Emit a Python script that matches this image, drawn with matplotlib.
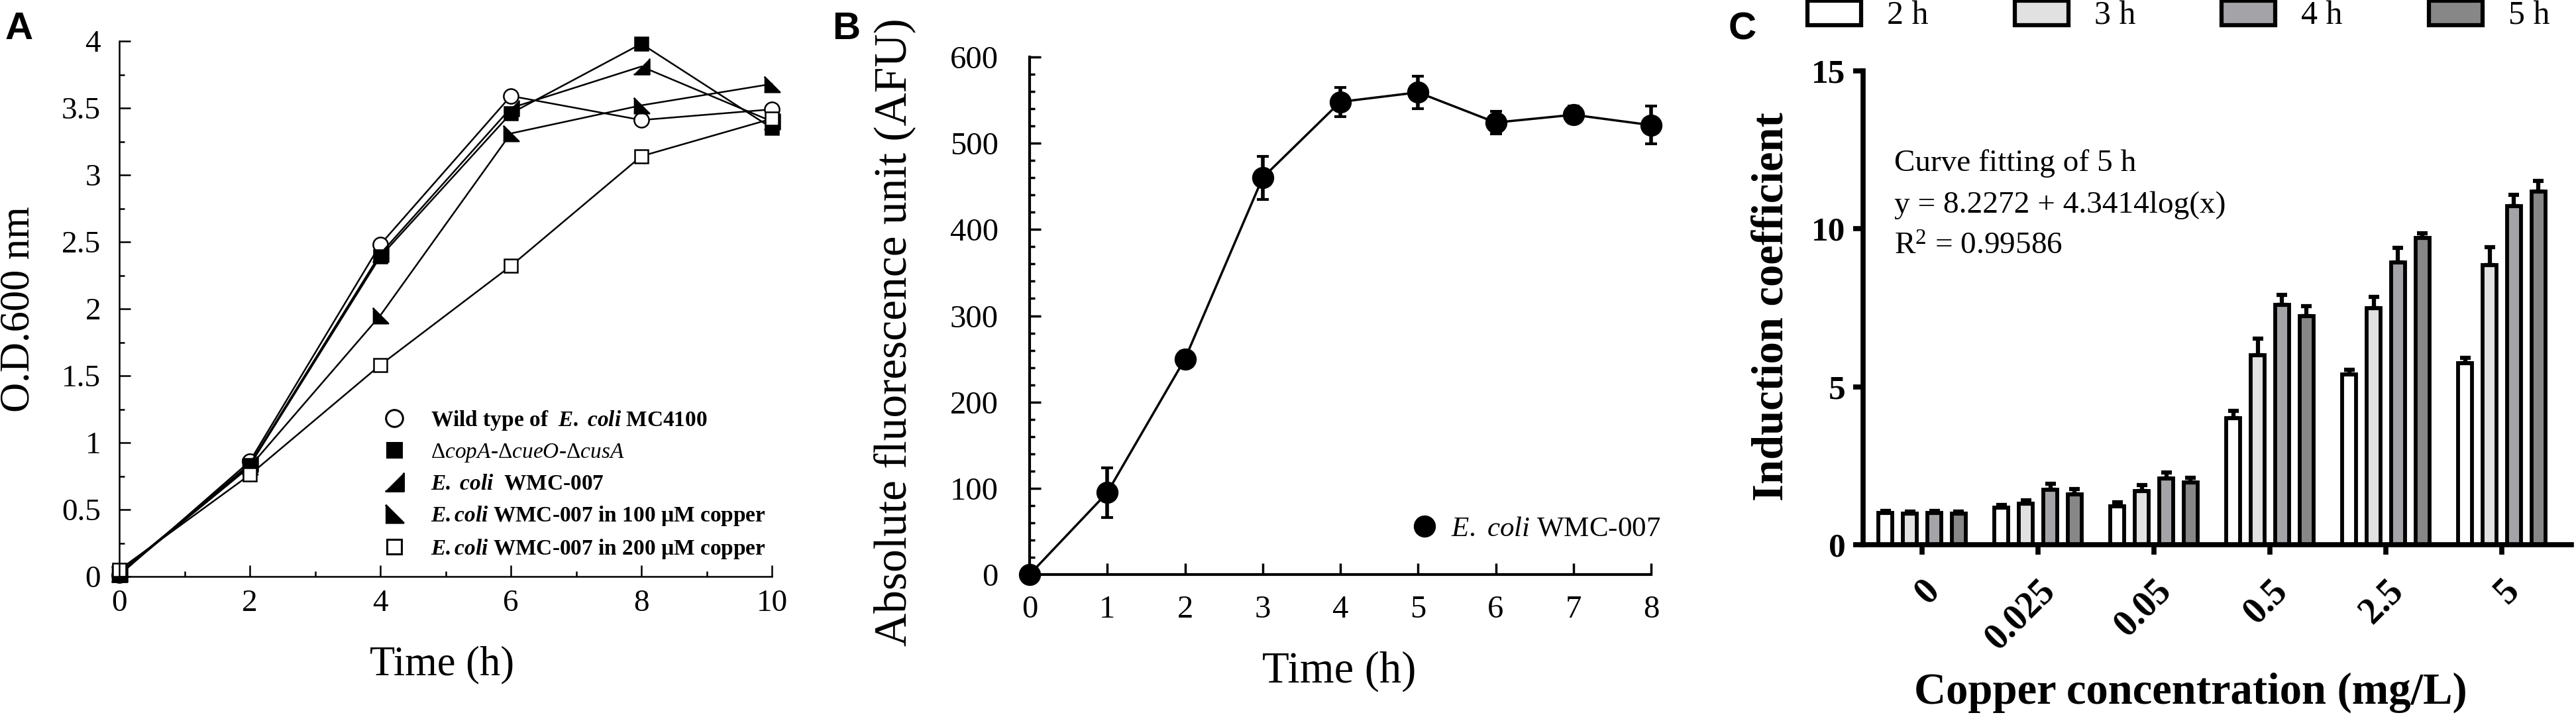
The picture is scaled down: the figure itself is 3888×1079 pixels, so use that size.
import numpy as np
import matplotlib
matplotlib.use("Agg")
from matplotlib import pyplot as plt
from matplotlib.patches import Patch
from matplotlib.lines import Line2D
from matplotlib.ticker import MultipleLocator, StrMethodFormatter

plt.rcParams['font.family'] = ['Liberation Serif', 'DejaVu Serif']
plt.rcParams['mathtext.fontset'] = 'custom'
plt.rcParams['mathtext.rm'] = 'Liberation Serif'
plt.rcParams['mathtext.it'] = 'Liberation Serif:italic'
plt.rcParams['mathtext.bf'] = 'Liberation Serif:bold'
if 'mathtext.bfit' in plt.rcParams:
    plt.rcParams['mathtext.bfit'] = 'Liberation Serif:italic:bold'

# ---- panel A: growth curves
time_a = [0, 2, 4, 6, 8, 10]
od_wild = [0.01, 0.86, 2.48, 3.59, 3.41, 3.49]
od_ko = [0.03, 0.83, 2.39, 3.46, 3.98, 3.35]
od_wmc = [0.02, 0.84, 2.41, 3.50, 3.81, 3.40]
od_cu100 = [0.02, 0.82, 1.95, 3.31, 3.52, 3.68]
od_cu200 = [0.05, 0.76, 1.58, 2.32, 3.14, 3.42]
labels_a = [r'Wild type of  $\mathbfit{E.\ coli}$ MC4100',
            r'$\Delta\mathit{copA}$-$\Delta\mathit{cueO}$-$\Delta\mathit{cusA}$',
            r'$\mathbfit{E.\ coli}$  WMC-007',
            r'$\mathbfit{E.coli}$ WMC-007 in 100 µM copper',
            r'$\mathbfit{E.coli}$ WMC-007 in 200 µM copper']

# ---- panel B: fluorescence
time_b = [0, 1, 2, 3, 4, 5, 6, 7, 8]
afu = [0, 95, 250, 460, 548, 559, 524, 533, 521]
afu_err = [0, 29, 9, 25, 17, 19, 13, 10, 22]
label_b = r'$\mathit{E.\ coli}$ WMC-007'

# ---- panel C: induction coefficient
conc_labels = ['0', '0.025', '0.05', '0.5', '2.5', '5']
hours = ['2 h', '3 h', '4 h', '5 h']
ic_2h = [1.00, 1.18, 1.22, 4.01, 5.39, 5.75]
ic_3h = [0.99, 1.30, 1.70, 6.00, 7.49, 8.86]
ic_4h = [1.00, 1.74, 2.10, 7.59, 8.94, 10.72]
ic_5h = [0.99, 1.60, 1.97, 7.24, 9.71, 11.18]
err_2h = [0.06, 0.07, 0.12, 0.22, 0.15, 0.16]
err_3h = [0.05, 0.10, 0.18, 0.52, 0.36, 0.55]
err_4h = [0.06, 0.20, 0.18, 0.32, 0.45, 0.35]
err_5h = [0.05, 0.16, 0.15, 0.32, 0.15, 0.33]
fit_text = ['Curve fitting of 5 h', 'y = 8.2272 + 4.3414log(x)', r'R$^2$ = 0.99586']

W, H = 3888, 1079
fig = plt.figure(figsize=(W / 100, H / 100), dpi=100)


def box(l, r, t, b):
    return [l / W, 1 - b / H, (r - l) / W, (b - t) / H]


def clean(ax, lw):
    for s in ['top', 'right']:
        ax.spines[s].set_visible(False)
    for s in ['left', 'bottom']:
        ax.spines[s].set_linewidth(lw)


# ================= A
ax = fig.add_axes(box(180, 1165, 62, 870))
clean(ax, 1.8)
tri_wmc = [(-1, -1), (1, -1), (1, 1)]
tri_cu = [(-1, -1), (1, -1), (-1, 1)]
series_a = [(od_wild, 'o', 'white', 16),
            (od_ko, 's', 'black', 14),
            (od_wmc, tri_wmc, 'black', 17),
            (od_cu100, tri_cu, 'black', 17),
            (od_cu200, 's', 'white', 14)]
proxies = []
for (vals, mk, fc, ms), lab in zip(series_a, labels_a):
    ax.plot(time_a, vals, color='black', lw=1.8, marker=mk, mfc=fc, mec='black',
            mew=1.8, ms=ms, clip_on=False)
    proxies.append(Line2D([], [], ls='none', marker=mk, mfc=fc, mec='black',
                          mew=2.2, ms=ms * 1.15))
ax.set_xlim(0, 10)
ax.set_ylim(0, 4)
ax.xaxis.set_major_locator(MultipleLocator(2))
ax.xaxis.set_minor_locator(MultipleLocator(1))
ax.yaxis.set_major_locator(MultipleLocator(0.5))
ax.yaxis.set_minor_locator(MultipleLocator(0.25))
ax.yaxis.set_major_formatter(StrMethodFormatter('{x:g}'))
ax.tick_params(which='both', direction='in', width=1.8, labelsize=34)
ax.tick_params(which='major', length=12)
ax.tick_params(which='minor', length=6)
ax.tick_params(axis='y', pad=20)
ax.tick_params(axis='x', pad=14)
ax.set_ylabel('O.D.600 nm', fontsize=45)
ax.set_xlabel('Time (h)', fontsize=45)
ax.yaxis.label.set(ha='center', va='center', rotation_mode='default')
ax.xaxis.label.set(ha='center', va='center')
ax.yaxis.set_label_coords(-0.1533, 0.499)
ax.xaxis.set_label_coords(0.494, -0.1646)
ax.legend(proxies, labels_a, loc='upper left', bbox_to_anchor=(562 / W, 1 - 600 / H),
          bbox_transform=fig.transFigure, frameon=False, borderpad=0,
          handlelength=1.0, handletextpad=1.15, labelspacing=0.45,
          prop={'size': 24, 'weight': 'bold'})

# ================= B
ax = fig.add_axes(box(1554, 2492, 86, 867))
clean(ax, 3)
ax.errorbar(time_b, afu, yerr=afu_err, fmt='-o', color='black', lw=2.5, ms=23,
            elinewidth=4, capsize=6.5, capthick=3, clip_on=False)
ax.set_xlim(0, 8)
ax.set_ylim(0, 600)
ax.xaxis.set_major_locator(MultipleLocator(1))
ax.yaxis.set_major_locator(MultipleLocator(100))
ax.yaxis.set_minor_locator(MultipleLocator(20))
ax.tick_params(which='both', direction='in', width=2.5, labelsize=35)
ax.tick_params(which='major', length=12)
ax.tick_params(which='minor', length=6)
ax.tick_params(axis='y', pad=34)
ax.tick_params(axis='x', pad=22)
ax.set_ylabel('Absolute fluorescence unit (AFU)', fontsize=50)
ax.set_xlabel('Time (h)', fontsize=48)
ax.yaxis.label.set(ha='center', va='center', rotation_mode='default')
ax.xaxis.label.set(ha='center', va='center')
ax.yaxis.set_label_coords(-0.2175, 0.469)
ax.xaxis.set_label_coords(0.498, -0.187)
ax.legend([Line2D([], [], ls='none', marker='o', color='black', ms=23)], [label_b],
          loc='upper left', bbox_to_anchor=(2100 / W, 1 - 757 / H),
          bbox_transform=fig.transFigure, frameon=False, borderpad=0,
          handlelength=1.3, handletextpad=0.3, fontsize=31)

# ================= C
ax = fig.add_axes(box(2812, 3881, 107, 822))
clean(ax, 5.5)
groups = np.arange(len(conc_labels))
step, width = 0.211, 0.12
fills = ['white', '#e1e1e1', '#a4a4a8', '#878787']
vals_c = [ic_2h, ic_3h, ic_4h, ic_5h]
errs_c = [err_2h, err_3h, err_4h, err_5h]
for k, (v, e, fc) in enumerate(zip(vals_c, errs_c, fills)):
    xs = groups + (k - 1.5) * step
    ax.errorbar(xs, v, yerr=[np.zeros(len(v)), e], fmt='none', ecolor='black',
                elinewidth=4.5, capsize=6, capthick=4.5, zorder=3)
    ax.bar(xs, v, width=width, color=fc, edgecolor='black', linewidth=4.2, zorder=2)
ax.set_xlim(-0.509, 5.6)
ax.set_ylim(0, 15)
ax.set_yticks([0, 5, 10, 15])
ax.set_xticks(groups)
ax.set_xticklabels(conc_labels, rotation=45, ha='right', va='top',
                   rotation_mode='anchor', fontweight='bold', fontsize=40)
for t in ax.get_yticklabels():
    t.set_fontweight('bold')
ax.tick_params(direction='out', width=5.5, length=11)
ax.tick_params(axis='y', labelsize=37, pad=8)
ax.tick_params(axis='x', pad=20)
ax.set_ylabel('Induction coefficient', fontsize=48, fontweight='bold')
ax.set_xlabel('Copper concentration (mg/L)', fontsize=48, fontweight='bold')
ax.yaxis.label.set(ha='center', va='center', rotation_mode='default')
ax.xaxis.label.set(ha='center', va='center')
ax.yaxis.set_label_coords(-0.129, 0.502)
ax.xaxis.set_label_coords(0.462, -0.312)
for txt, yb in zip(fit_text, [0.789, 0.701, 0.613]):
    ax.text(0.044, yb, txt, transform=ax.transAxes, fontsize=34, va='baseline')
handles = [Patch(facecolor=fc, edgecolor='black', linewidth=4.5) for fc in fills]
fig.legend(handles, hours, loc='center left', bbox_to_anchor=(2703 / W, 1 - 24 / H),
           frameon=False, borderpad=0, ncol=4, fontsize=36, handlelength=1.62,
           handleheight=0.76, handletextpad=0.78, columnspacing=2.6)

# panel letters
for letter, xl in [('A', 8), ('B', 1256), ('C', 2609)]:
    fig.text(xl / W, 1 - 59 / H, letter, fontsize=42, fontweight='bold',
             family=['Liberation Sans', 'DejaVu Sans'], va='baseline')

fig.savefig('out.png', dpi=100)
